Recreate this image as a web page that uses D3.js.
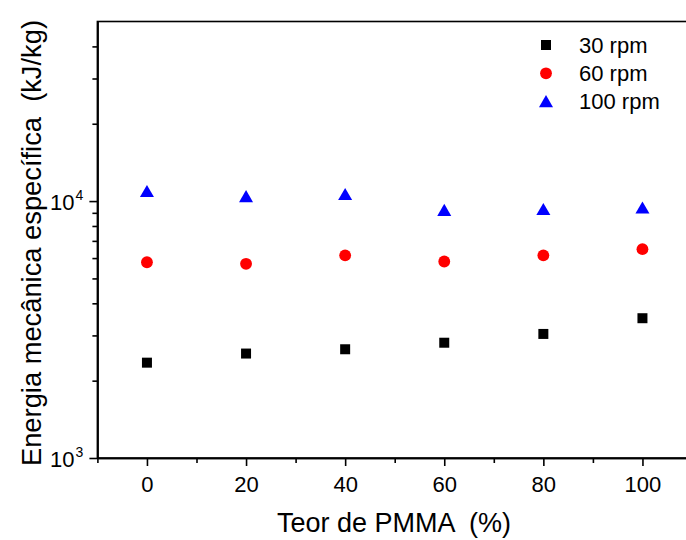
<html>
  <script src="https://d3js.org/d3.v7.min.js"></script>
  <body style="margin:0">
    <script>
      // data
      let pmma = [0, 20, 40, 60, 80, 100];
      let rpm30 = [2350, 2550, 2650, 2810, 3040, 3500];
      let rpm60 = [5780, 5700, 6150, 5820, 6150, 6500];
      let rpm100 = [10900, 10400, 10600, 9200, 9270, 9400];
      let xTicks = [0, 20, 40, 60, 80, 100];
      let xMinor = [-10, 10, 30, 50, 70, 90, 110];
      let yTicks = [1000, 10000];
      let seriesNames = ["30 rpm", "60 rpm", "100 rpm"];

      let width = 686;
      let height = 540;
      let font = "'Liberation Sans', Arial, Helvetica, sans-serif";

      let svg = d3.select("body").append("svg")
                  .attr("width", width)
                  .attr("height", height)
                  .style("font-family", font);

      let x = d3.scaleLinear().domain([-10, 110]).range([97.4, 692]);
      let y = d3.scaleLog().domain([1000, 50000]).range([458, 21.5]);

      // frame
      svg.append("rect")
         .attr("x", x(-10)).attr("y", y(50000))
         .attr("width", x(110) - x(-10)).attr("height", y(1000) - y(50000))
         .attr("fill", "none").attr("stroke", "black").attr("stroke-width", 1.6);

      // x axis
      let xAxis = svg.append("g")
         .attr("transform", `translate(0,${y(1000)})`)
         .call(d3.axisBottom(x).tickValues(xTicks).tickSize(8).tickSizeOuter(0).tickPadding(8).tickFormat(d3.format("d")));
      svg.append("g")
         .attr("transform", `translate(0,${y(1000)})`)
         .call(d3.axisBottom(x).tickValues(xMinor).tickSize(5).tickSizeOuter(0).tickFormat(""));

      // y axis
      svg.append("g")
         .attr("transform", `translate(${x(-10)},0)`)
         .call(d3.axisLeft(y).tickValues(yTicks).tickSize(8).tickSizeOuter(0).tickFormat(""));
      let yMinor = [];
      [1000, 10000].forEach(dec => {
        for (let k = 2; k <= 9; k++) if (k * dec < 50000) yMinor.push(k * dec);
      });
      svg.append("g")
         .attr("transform", `translate(${x(-10)},0)`)
         .call(d3.axisLeft(y).tickValues(yMinor).tickSize(5).tickSizeOuter(0).tickFormat(""));

      svg.selectAll(".domain").attr("stroke-width", 1.6);
      svg.selectAll(".tick line").attr("stroke-width", 1.6);
      xAxis.selectAll(".tick text")
           .attr("font-size", 22).attr("font-family", font).attr("dy", "0.82em");

      // y tick labels with superscript exponents
      let yl = svg.append("g").selectAll("g").data(yTicks).join("g")
                  .attr("transform", d => `translate(${x(-10)},${y(d) + 8.5})`);
      yl.append("text")
        .attr("x", -23).attr("text-anchor", "end")
        .attr("font-size", 22)
        .text("10");
      yl.append("text")
        .attr("x", -22).attr("y", -10)
        .attr("font-size", 14)
        .text(d => Math.round(Math.log10(d)));

      // axis titles
      svg.append("text")
         .attr("x", 394).attr("y", 532)
         .attr("text-anchor", "middle").attr("font-size", 27)
         .attr("xml:space", "preserve")
         .text("Teor de PMMA  (%)");
      svg.append("text")
         .attr("transform", "translate(41,243) rotate(-90)")
         .attr("text-anchor", "middle").attr("font-size", 27.3)
         .attr("xml:space", "preserve")
         .text("Energia mecânica específica  (kJ/kg)");

      // markers
      let square = d3.symbol().type(d3.symbolSquare).size(100);
      let circle = d3.symbol().type(d3.symbolCircle).size(110);
      let triangle = d3.symbol().type(d3.symbolTriangle).size(85);

      svg.append("g").selectAll("path").data(rpm30).join("path")
         .attr("d", square)
         .attr("transform", (d, i) => `translate(${x(pmma[i])},${y(d)})`)
         .attr("fill", "black");
      svg.append("g").selectAll("path").data(rpm60).join("path")
         .attr("d", circle)
         .attr("transform", (d, i) => `translate(${x(pmma[i])},${y(d)})`)
         .attr("fill", "#ff0000");
      svg.append("g").selectAll("path").data(rpm100).join("path")
         .attr("d", triangle)
         .attr("transform", (d, i) => `translate(${x(pmma[i])},${y(d) + 1.5})`)
         .attr("fill", "#0000ff");

      // legend
      let shapes = [square, circle, triangle];
      let colors = ["black", "#ff0000", "#0000ff"];
      let leg = svg.append("g").selectAll("g").data(seriesNames).join("g")
                   .attr("transform", (d, i) => `translate(546,${45 + i * 28.3})`);
      leg.append("path")
         .attr("d", (d, i) => shapes[i]())
         .attr("transform", (d, i) => i == 2 ? "translate(0,1.5)" : null)
         .attr("fill", (d, i) => colors[i]);
      leg.append("text")
         .attr("x", 33).attr("y", 7.5)
         .attr("font-size", 22)
         .text(d => d);
    </script>
  </body>
</html>
